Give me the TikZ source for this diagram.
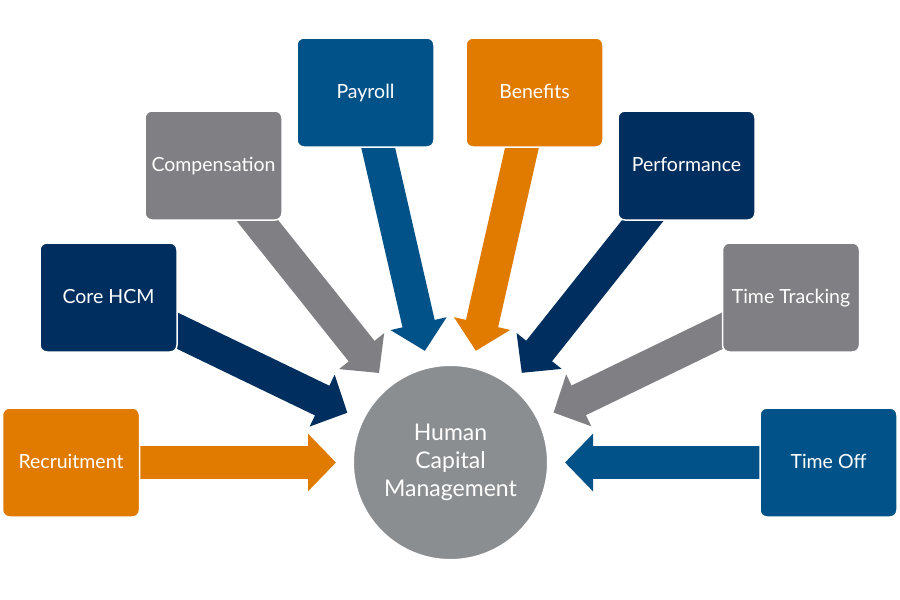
\documentclass[tikz,border=0pt]{standalone}
\usepackage{fontspec}
\setmainfont{Lato}
\usetikzlibrary{arrows.meta}
\pgfdeclarelayer{bg}
\pgfsetlayers{bg,main}
\definecolor{corange}{HTML}{E07B00}
\definecolor{cnavy}{HTML}{002F5F}
\definecolor{cblue}{HTML}{005288}
\definecolor{cgray}{HTML}{808084}
\definecolor{ccircle}{HTML}{8B8E91}
\begin{document}
\begin{tikzpicture}[x=1pt,y=-1pt,
  box/.style={draw=white, line width=1.5pt, rounded corners=7pt,
    minimum width=137pt, minimum height=109pt, inner sep=0pt,
    text height=15pt, text depth=3pt,
    text=white, font=\fontsize{19.5}{22}\selectfont},
  hub/.style={circle, fill=ccircle, draw=white, line width=3pt,
    minimum size=196pt, inner sep=0pt, text=white, align=center,
    font=\fontsize{23}{28}\selectfont},
  conn/.style={line width=33pt, -{Triangle[width=56pt,length=28pt]},
    shorten >=15pt}]
\useasboundingbox (0,0) rectangle (900,600);

\node[hub] (hcm) at (450.5,462.5) {Human\\Capital\\Management};

\node[box, fill=corange] (rec)  at (71,462.5)  {Recruitment};
\node[box, fill=cnavy]   (core) at (108.5,297.5) {Core HCM};
\node[box, fill=cgray]   (comp) at (213.5,165.5) {Compensation};
\node[box, fill=cblue]   (pay)  at (365.5,92.5) {Payroll};
\node[box, fill=corange] (ben)  at (534.5,92.5) {Benefits};
\node[box, fill=cnavy]   (perf) at (686.5,165.5) {Performance};
\node[box, fill=cgray]   (tt)   at (791,297.5) {Time Tracking};
\node[box, fill=cblue]   (off)  at (828.5,462.5) {Time Off};

\begin{pgfonlayer}{bg}
\fill[white] (0,0) rectangle (900,600);
\draw[conn, corange] (rec.center)  -- (hcm);
\draw[conn, cnavy]   (core.center) -- (hcm);
\draw[conn, cgray]   (comp.center) -- (hcm);
\draw[conn, cblue]   (pay.center)  -- (hcm);
\draw[conn, corange] (ben.center)  -- (hcm);
\draw[conn, cnavy]   (perf.center) -- (hcm);
\draw[conn, cgray]   (tt.center)   -- (hcm);
\draw[conn, cblue]   (off.center)  -- (hcm);
\end{pgfonlayer}
\end{tikzpicture}
\end{document}
